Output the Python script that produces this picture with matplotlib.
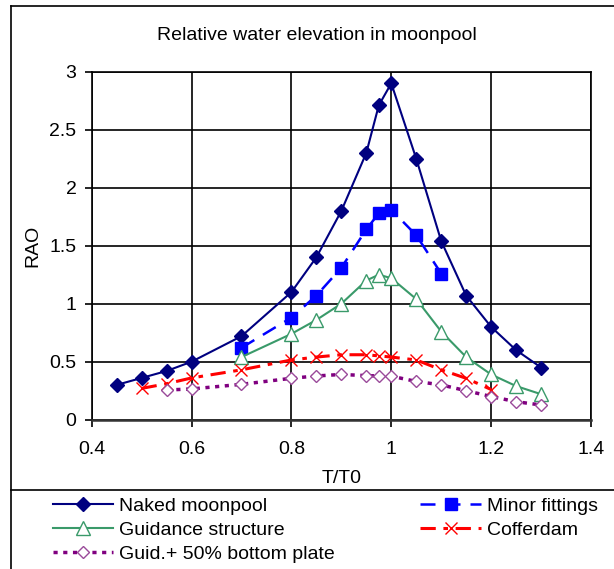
import matplotlib
matplotlib.use("Agg")
import matplotlib.pyplot as plt
from matplotlib.lines import Line2D

plt.rcParams['font.family'] = ['Liberation Sans', 'DejaVu Sans']

# data
x_naked = [0.45, 0.5, 0.55, 0.6, 0.7, 0.8, 0.85, 0.9, 0.95, 0.975, 1.0, 1.05, 1.1, 1.15, 1.2, 1.25, 1.3]
y_naked = [0.30, 0.36, 0.42, 0.50, 0.72, 1.10, 1.40, 1.80, 2.30, 2.71, 2.90, 2.25, 1.54, 1.07, 0.80, 0.60, 0.45]

x_minor = [0.7, 0.8, 0.85, 0.9, 0.95, 0.975, 1.0, 1.05, 1.1]
y_minor = [0.62, 0.88, 1.07, 1.31, 1.64, 1.78, 1.81, 1.59, 1.26]

x_guid = [0.7, 0.8, 0.85, 0.9, 0.95, 0.975, 1.0, 1.05, 1.1, 1.15, 1.2, 1.25, 1.3]
y_guid = [0.54, 0.74, 0.86, 1.00, 1.20, 1.25, 1.22, 1.04, 0.76, 0.54, 0.39, 0.29, 0.22]

x_coff = [0.5, 0.55, 0.6, 0.7, 0.8, 0.85, 0.9, 0.95, 0.975, 1.0, 1.05, 1.1, 1.15, 1.2]
y_coff = [0.27, 0.31, 0.36, 0.43, 0.515, 0.54, 0.56, 0.56, 0.55, 0.54, 0.515, 0.43, 0.357, 0.26]

x_plate = [0.55, 0.6, 0.7, 0.8, 0.85, 0.9, 0.95, 0.975, 1.0, 1.05, 1.1, 1.15, 1.2, 1.25, 1.3]
y_plate = [0.256, 0.265, 0.305, 0.357, 0.377, 0.39, 0.38, 0.377, 0.375, 0.33, 0.30, 0.25, 0.20, 0.155, 0.127]

x_ticks = [0.4, 0.6, 0.8, 1.0, 1.2, 1.4]
x_ticklabels = ['0.4', '0.6', '0.8', '1', '1.2', '1.4']
y_ticks = [0, 0.5, 1, 1.5, 2, 2.5, 3]
y_ticklabels = ['0', '0.5', '1', '1.5', '2', '2.5', '3']

W, H = 614, 569
fig = plt.figure(figsize=(W / 100, H / 100), dpi=100)
ax = fig.add_axes([91.7 / W, 1 - 419.7 / H, (591 - 91.7) / W, (419.7 - 71.7) / H])

l1, = ax.plot(x_naked, y_naked, color='#000080', lw=1.5, marker='D', ms=7.5,
              mfc='#000080', mec='#000080', label='Naked moonpool')
l2, = ax.plot(x_minor, y_minor, color='#0000FF', lw=1.8, ls=(0, (6, 4)), marker='s', ms=8,
              mfc='#0000FF', mec='#0000FF', label='Minor fittings')
l3, = ax.plot(x_guid, y_guid, color='#3A9A6A', lw=1.5, marker='^', ms=10,
              mfc='white', mec='#3A9A6A', mew=1.0, label='Guidance structure')
l4, = ax.plot(x_coff, y_coff, color='#FF0000', lw=2.2, ls=(0, (5, 2.5, 1.5, 2.5)), marker='x', ms=8,
              mec='#FF0000', mew=1.0, label='Cofferdam')
l5, = ax.plot(x_plate, y_plate, color='#800080', lw=2.5, ls=(0, (1.2, 1.6)), marker='D', ms=6.5,
              mfc='white', mec='#9A4A9A', mew=1.0, label='Guid.+ 50% bottom plate')

ax.set_xlim(0.4, 1.4)
ax.set_ylim(0, 3)
ax.set_xticks(x_ticks)
ax.set_xticklabels(x_ticklabels)
ax.set_yticks(y_ticks)
ax.set_yticklabels(y_ticklabels)
ax.grid(True, color='black', lw=1.2)
ax.tick_params(direction='out', length=5, width=1.2, labelsize=14, colors='black', pad=6)
ax.tick_params(axis='x', pad=10)
for s in ax.spines.values():
    s.set_color('black')
    s.set_linewidth(1.2)
ax.spines['bottom'].set_linewidth(1.8)
ax.spines['bottom'].set_color('#333333')

ax.set_xlabel('T/T0', fontsize=14, labelpad=9)
ax.set_ylabel('RAO', fontsize=14, labelpad=6)

fig.text(317 / W, 1 - 36 / H, 'Relative water elevation in moonpool', fontsize=14,
         ha='center', va='center')

# chart frame (cropped on right and bottom)
fig.add_artist(Line2D([11 / W, 11 / W], [0, 1 - 6 / H], color='black', lw=1.2, transform=fig.transFigure))
fig.add_artist(Line2D([11 / W, 1], [1 - 6 / H, 1 - 6 / H], color='black', lw=1.2, transform=fig.transFigure))
fig.add_artist(Line2D([11 / W, 1], [1 - 490 / H, 1 - 490 / H], color='black', lw=1.2, transform=fig.transFigure))

fig.legend([l1, l3, l5, l2, l4],
           ['Naked moonpool', 'Guidance structure', 'Guid.+ 50% bottom plate', 'Minor fittings', 'Cofferdam'],
           ncol=2, loc='upper left', bbox_to_anchor=(53 / W, 1 - 497 / H), frameon=False,
           fontsize=14, handlelength=3.1, handletextpad=0.3, columnspacing=4.4,
           labelspacing=0.33, borderpad=0, borderaxespad=0)

fig.savefig('out.png', dpi=100)
